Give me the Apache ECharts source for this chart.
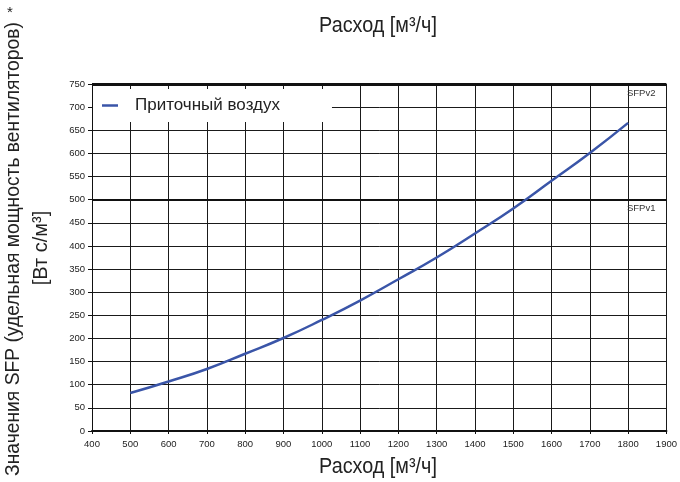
<!DOCTYPE html>
<html>
<head>
<meta charset="utf-8">
<script src="https://cdn.jsdelivr.net/npm/echarts@6/dist/echarts.min.js"></script>
<style>html,body{margin:0;padding:0;background:#fff}#c{width:680px;height:482px}</style>
</head>
<body>
<div id="c"></div>
<script>
var flow = [500, 600, 700, 800, 900, 1000, 1100, 1200, 1300, 1400, 1500, 1600, 1700, 1800];
var sfpSupply = [82, 107, 134, 167, 201, 240, 282, 328, 375, 427, 481, 541, 601, 666];
var seriesName = 'Приточный воздух';
var sfpLevels = [500, 750];
var sfpLevelNames = ['SFPv1', 'SFPv2'];
var xTitle = 'Расход [м³/ч]';
var yTitle1 = 'Значения SFP (удельная мощность вентиляторов)';
var yTitle2 = '[Вт с/м³]';

var chart = echarts.init(document.getElementById('c'), null, {renderer: 'canvas'});
var pts = flow.map(function (x, i) { return [x, sfpSupply[i]]; });
var font = "'Liberation Sans', Arial, sans-serif";

chart.setOption({
  animation: false,
  backgroundColor: '#fff',
  textStyle: {fontFamily: font},
  grid: {left: 92, right: 10, top: 84, bottom: 51, containLabel: false},
  xAxis: {
    type: 'value', min: 400, max: 1900, interval: 100,
    axisLine: {show: true, lineStyle: {color: '#111', width: 2}},
    axisTick: {show: true, length: 3, lineStyle: {color: '#111'}},
    axisLabel: {fontSize: 9.5, color: '#222', margin: 8, fontFamily: font,
                formatter: function (v) { return String(v); }},
    splitLine: {show: true, lineStyle: {color: '#1a1a1a', width: 1}}
  },
  yAxis: {
    type: 'value', min: 0, max: 750, interval: 50,
    axisLine: {show: true, lineStyle: {color: '#111', width: 1}},
    axisTick: {show: true, length: 4, lineStyle: {color: '#111'}},
    axisLabel: {fontSize: 9.5, color: '#222', margin: 7, fontFamily: font,
                formatter: function (v) { return String(v); }},
    splitLine: {show: true, lineStyle: {color: '#1a1a1a', width: 1}}
  },
  legend: {
    left: 93, top: 89,
    backgroundColor: '#fff',
    padding: [8, 52, 8, 9],
    icon: 'rect', itemWidth: 16, itemHeight: 2.5,
    textStyle: {fontSize: 17, color: '#222', fontFamily: font, padding: [0, 0, 0, 12]},
    data: [seriesName]
  },
  series: [{
    name: seriesName,
    type: 'line',
    data: pts,
    smooth: true,
    symbol: 'none',
    z: 5,
    lineStyle: {color: '#3a55a8', width: 2.5},
    itemStyle: {color: '#3a55a8'},
    markLine: {
      silent: true,
      symbol: 'none',
      animation: false,
      data: sfpLevels.map(function (v, i) {
        return {
          yAxis: v,
          lineStyle: {color: '#111', width: i === 1 ? 3 : 2, type: 'solid'},
          label: {show: true, formatter: sfpLevelNames[i], position: 'insideEndBottom',
                  fontSize: 9.5, color: '#333', fontFamily: font, distance: [11, 4]}
        };
      })
    }
  }],
  graphic: [
    {type: 'text', x: 378, y: 26, scaleX: 0.9, style: {text: xTitle, font: '22px ' + font, fill: '#222', textAlign: 'center', textVerticalAlign: 'middle'}},
    {type: 'text', x: 378, y: 467, scaleX: 0.9, style: {text: xTitle, font: '22px ' + font, fill: '#222', textAlign: 'center', textVerticalAlign: 'middle'}},
    {type: 'text', x: 14, y: 249, rotation: Math.PI / 2, style: {text: yTitle1, font: '19.3px ' + font, fill: '#222', textAlign: 'center', textVerticalAlign: 'middle'}},
    {type: 'text', x: 7, y: 13, style: {text: '*', font: '15px ' + font, fill: '#222', textAlign: 'left', textVerticalAlign: 'middle'}},
    {type: 'text', x: 41, y: 248, rotation: Math.PI / 2, style: {text: yTitle2, font: '20px ' + font, fill: '#222', textAlign: 'center', textVerticalAlign: 'middle'}}
  ]
});
</script>
</body>
</html>
